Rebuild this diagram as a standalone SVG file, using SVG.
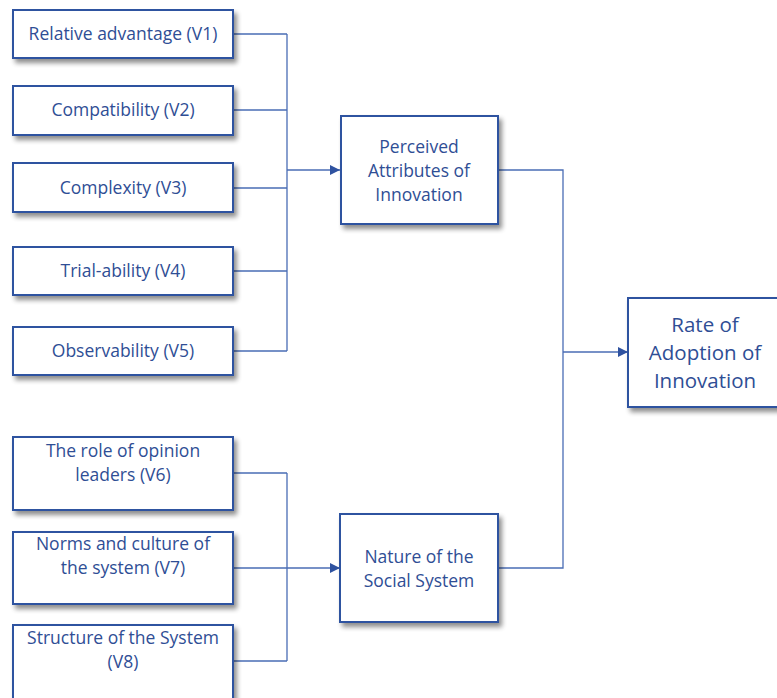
<svg xmlns="http://www.w3.org/2000/svg" width="777" height="698" viewBox="0 0 777 698">
  <style>
    .box { fill: #ffffff; stroke: #2f52a0; stroke-width: 2; filter: url(#shadow); }
    .lbl { font-family: "Open Sans", "Noto Sans", sans-serif; font-size: 17.5px; fill: #2f4e95; text-anchor: middle; }
    .big { font-size: 20.5px; }
    .wire { fill: none; stroke: #4a6db5; stroke-width: 1.3; }
  </style>
  <defs>
    <filter id="shadow" x="-10%" y="-10%" width="130%" height="140%">
      <feGaussianBlur in="SourceAlpha" stdDeviation="2.5"/>
      <feOffset dx="3" dy="4" result="b"/>
      <feComponentTransfer><feFuncA type="linear" slope="0.45"/></feComponentTransfer>
      <feMerge><feMergeNode/><feMergeNode in="SourceGraphic"/></feMerge>
    </filter>
    <marker id="arrow" viewBox="0 0 10 10" refX="10" refY="5" markerWidth="10" markerHeight="10" markerUnits="userSpaceOnUse" orient="auto">
      <path d="M0,0 L10,5 L0,10 Z" fill="#2f52a0"/>
    </marker>
  </defs>
  <rect width="777" height="698" fill="#ffffff"/>

  <!-- connectors: bus lines feeding the two factor boxes and the outcome box -->
  <g id="connectors">
    <path class="wire" d="M233,34 H287 M233,110 H287 M233,188 H287 M233,271 H287 M233,351 H287 M287,34 V351"/>
    <path class="wire" d="M287,170 H340" marker-end="url(#arrow)"/>
    <path class="wire" d="M233,473 H287 M233,568 H287 M233,661 H287 M287,473 V661"/>
    <path class="wire" d="M287,568 H340" marker-end="url(#arrow)"/>
    <path class="wire" d="M498,170 H563 V568 H498"/>
    <path class="wire" d="M563,352 H628" marker-end="url(#arrow)"/>
  </g>

  <g id="v1"><rect class="box" x="13" y="10" width="220" height="48"/><text class="lbl" x="123" y="40">Relative advantage (V1)</text></g>
  <g id="v2"><rect class="box" x="13" y="86" width="220" height="49"/><text class="lbl" x="123" y="116">Compatibility (V2)</text></g>
  <g id="v3"><rect class="box" x="13" y="163" width="220" height="49"/><text class="lbl" x="123" y="194">Complexity (V3)</text></g>
  <g id="v4"><rect class="box" x="13" y="247" width="220" height="48"/><text class="lbl" x="123" y="277">Trial-ability (V4)</text></g>
  <g id="v5"><rect class="box" x="13" y="327" width="220" height="48"/><text class="lbl" x="123" y="357">Observability (V5)</text></g>

  <g id="v6"><rect class="box" x="13" y="437" width="220" height="73"/><text class="lbl" x="123" y="457">The role of opinion</text><text class="lbl" x="123" y="481">leaders (V6)</text></g>
  <g id="v7"><rect class="box" x="13" y="532" width="220" height="72"/><text class="lbl" x="123" y="550">Norms and culture of</text><text class="lbl" x="123" y="574">the system (V7)</text></g>
  <g id="v8"><rect class="box" x="13" y="625" width="220" height="80"/><text class="lbl" x="123" y="644">Structure of the System</text><text class="lbl" x="123" y="668">(V8)</text></g>

  <g id="perceived"><rect class="box" x="341" y="116" width="157" height="108"/><text class="lbl" x="419" y="153">Perceived</text><text class="lbl" x="419" y="177">Attributes of</text><text class="lbl" x="419" y="201">Innovation</text></g>
  <g id="social"><rect class="box" x="340" y="514" width="158" height="108"/><text class="lbl" x="419" y="563">Nature of the</text><text class="lbl" x="419" y="587">Social System</text></g>
  <g id="rate"><rect class="box" x="628" y="298" width="155" height="109"/><text class="lbl big" x="705" y="332">Rate of</text><text class="lbl big" x="705" y="360">Adoption of</text><text class="lbl big" x="705" y="388">Innovation</text></g>
</svg>
